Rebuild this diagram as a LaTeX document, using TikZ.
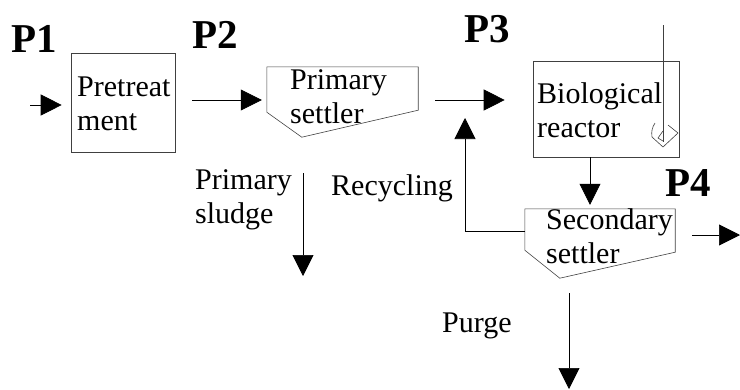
\documentclass[tikz,border=0pt]{standalone}
\usepackage{fontspec}
\setmainfont{Liberation Serif}
\usetikzlibrary{arrows.meta, calc}

\tikzset{
  box/.style={draw=black!75, line width=0.6pt, inner sep=0pt},
  hull/.style={inner sep=0pt},
  lbl/.style={font=\fontsize{30}{34}\selectfont, align=left, inner sep=0pt, anchor=base west},
  plbl/.style={font=\fontsize{41}{43}\selectfont\bfseries, inner sep=0pt, anchor=base west},
  flow/.style={-{Triangle[length=21pt,width=21pt]}, line width=0.7pt},
}

\begin{document}
\begin{tikzpicture}[x=1pt,y=-1pt]
\useasboundingbox (0,0) rectangle (740,389);

% units and settlers
\node[box, minimum width=104, minimum height=99] (pre) at (123,102.5) {};
\node[box, minimum width=146, minimum height=96] (bio) at (606,109) {};
\node[hull, minimum width=151, minimum height=70] (ps) at (342.5,102) {};
\node[hull, minimum width=150, minimum height=69] (ss) at (600,243.5) {};
\draw[draw=black!75, line width=0.6pt] (ps.north west) -- (ps.north east) -- ([yshift=27]ps.south east)
    -- ([xshift=35]ps.south west) -- ([yshift=25]ps.south west) -- cycle;
\draw[draw=black!75, line width=0.6pt] (ss.north west) -- (ss.north east) -- ([yshift=26]ss.south east)
    -- ([xshift=35]ss.south west) -- ([yshift=28]ss.south west) -- cycle;

% stirrer
\draw[black!75, line width=0.6pt] (663,25) -- (663,142);
\draw[black!75, line width=0.6pt] (663,131) -- (658,138) -- (663,141);
\draw[black!75, line width=0.6pt] (655,123) to[bend right=20] (652,137) -- (663,147) -- (678,133) -- (668,125);

% texts (anchored at the last line)
\node[lbl] (pretxt) at (77,130) {Pretreat\\ment};
\node[lbl] (pstxt) at (290,123) {Primary\\settler};
\node[lbl] (biotxt) at (537,137) {Biological\\reactor};
\node[lbl] (sstxt) at (546,263) {Secondary\\settler};
\node[lbl] (sludgetxt) at (195,223) {Primary\\sludge};
\node[lbl] (rectxt) at (331,195) {Recycling};
\node[lbl] (purgetxt) at (442,332) {Purge};

\node[plbl] (p1) at (11,52) {P1};
\node[plbl] (p2) at (192,48) {P2};
\node[plbl] (p3) at (464,42) {P3};
\node[plbl] (p4) at (665,196) {P4};

% free ends
\coordinate (feed) at (30,105);
\coordinate (rec) at (465,118);
\coordinate (effluent) at (740,235);
\coordinate (sludge) at (303,276);
\coordinate (purge) at (569,389);

% flows
\draw[flow, shorten >=9] (feed) -- (pre.west |- feed);
\draw[flow, shorten <=17, shorten >=5] (pre.east |- 0,100) -- (ps.west |- 0,100);
\draw[flow, shorten <=17, shorten >=28] (ps.east |- 0,100) -- (bio.west |- 0,100);
\draw[flow, shorten >=4] (bio.south -| 590,0) -- (ss.north -| 590,0);
\draw[flow] (ss.west |- 0,231) -| (rec);
\draw[flow, shorten <=17] (ss.east |- effluent) -- (effluent);
\draw[flow, shorten <=36] (ps.south -| sludge) -- (sludge);
\draw[flow, shorten <=15] (ss.south -| purge) -- (purge);
\end{tikzpicture}
\end{document}
